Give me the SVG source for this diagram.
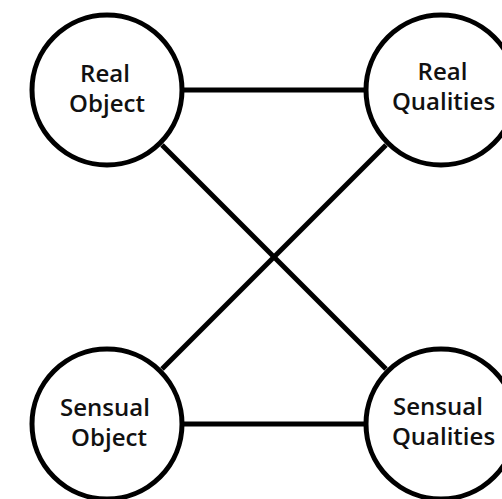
<svg xmlns="http://www.w3.org/2000/svg" width="502" height="499" viewBox="0 0 502 499">
<style>
.node circle{fill:#fff;stroke:#000;stroke-width:5}
.node text{font-family:"Open Sans",Lato,"Liberation Sans",sans-serif;font-weight:600;font-size:24px;fill:#111;text-anchor:middle;font-variant-ligatures:none}
#connectors line{stroke:#000;stroke-width:5}
</style>
<rect width="502" height="499" fill="#fff"/>
<g id="connectors">
<line x1="184" y1="90" x2="364" y2="90"/>
<line x1="184" y1="424" x2="364" y2="424"/>
<line x1="162" y1="145" x2="386" y2="369"/>
<line x1="386" y1="145" x2="162" y2="369"/>
</g>
<g id="real-object" class="node">
<circle cx="107" cy="90" r="75"/>
<text x="105" y="82">Real</text>
<text x="107" y="112">Object</text>
</g>
<g id="real-qualities" class="node">
<circle cx="441" cy="90" r="75"/>
<text x="442.5" y="80">Real</text>
<text x="443.5" y="110">Qualities</text>
</g>
<g id="sensual-object" class="node">
<circle cx="107" cy="424" r="75"/>
<text x="105" y="416">Sensual</text>
<text x="109" y="446">Object</text>
</g>
<g id="sensual-qualities" class="node">
<circle cx="441" cy="424" r="75"/>
<text x="438" y="415">Sensual</text>
<text x="443.5" y="445">Qualities</text>
</g>
</svg>
